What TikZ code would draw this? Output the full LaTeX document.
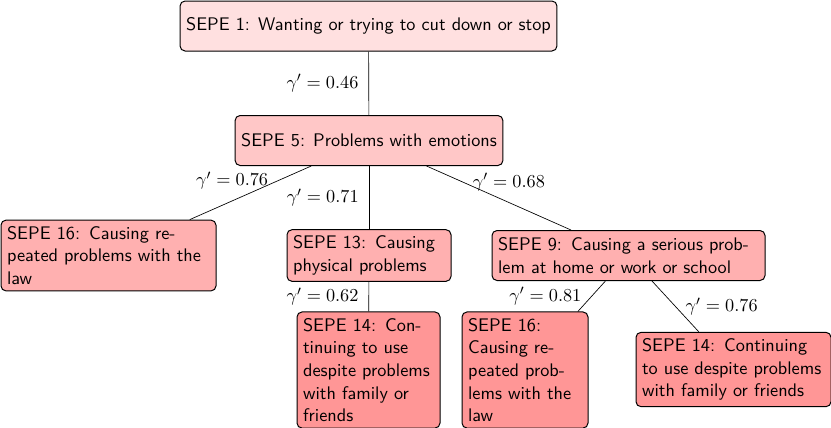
\documentclass[tikz,border=0pt]{standalone}
\usepackage{amsmath}
\usepackage{tikz}
\begin{document}
\begin{tikzpicture}[x=0.6pt, y=-0.6pt,
  sepe/.style={draw, line width=0.6pt, rounded corners=3pt, font=\fontsize{10.95pt}{13.6pt}\selectfont\sffamily, minimum height=30pt, inner sep=3.65pt},
  lv0/.style={sepe, fill=red!12},
  lv1/.style={sepe, fill=red!22},
  lv2/.style={sepe, fill=red!31},
  lv3/.style={sepe, fill=red!41},
  gam/.style={font=\fontsize{10.95pt}{13.6pt}\selectfont, inner sep=6pt}]
  \useasboundingbox (0,0) rectangle (831,427);
  % tree nodes
  \node[lv0] (s1) at (368.5,26) {SEPE 1: Wanting or trying to cut down or stop};
  \node[lv1] (s5) at (369,140.5) {SEPE 5: Problems with emotions};
  \node[lv2, text width=121.7pt] (s16a) at (108.5,255.5) {SEPE 16: Causing repeated problems with the law};
  \node[lv2, text width=91.1pt] (s13) at (369,255.5) {SEPE 13: Causing physical problems};
  \node[lv2, text width=156.5pt] (s9) at (628.5,255.5) {SEPE 9: Causing a serious problem at home or work or school};
  \node[lv3, text width=78.5pt] (s14a) at (368.5,370) {SEPE 14: Continuing to use despite problems with family or friends};
  \node[lv3, text width=68.3pt] (s16b) at (525,370) {SEPE 16: Causing repeated problems with the law};
  \node[lv3, text width=109.7pt] (s14b) at (733.5,369.5) {SEPE 14: Continuing to use despite problems with family or friends};
  % edges with gamma values
  \draw (s1) -- node[gam, midway, left] {$\gamma' = 0.46$} (s5);
  \draw (s5) -- node[gam, pos=0.27, left] {$\gamma' = 0.76$} (s16a);
  \draw (s5) -- node[gam, midway, left] {$\gamma' = 0.71$} (s13);
  \draw (s5) -- node[gam, pos=0.25, right] {$\gamma' = 0.68$} (s9);
  \draw (s13) -- node[gam, midway, left] {$\gamma' = 0.62$} (s14a);
  \draw (s9) -- node[gam, midway, left] {$\gamma' = 0.81$} (s16b);
  \draw (s9) -- node[gam, midway, right] {$\gamma' = 0.76$} (s14b);
\end{tikzpicture}
\end{document}
